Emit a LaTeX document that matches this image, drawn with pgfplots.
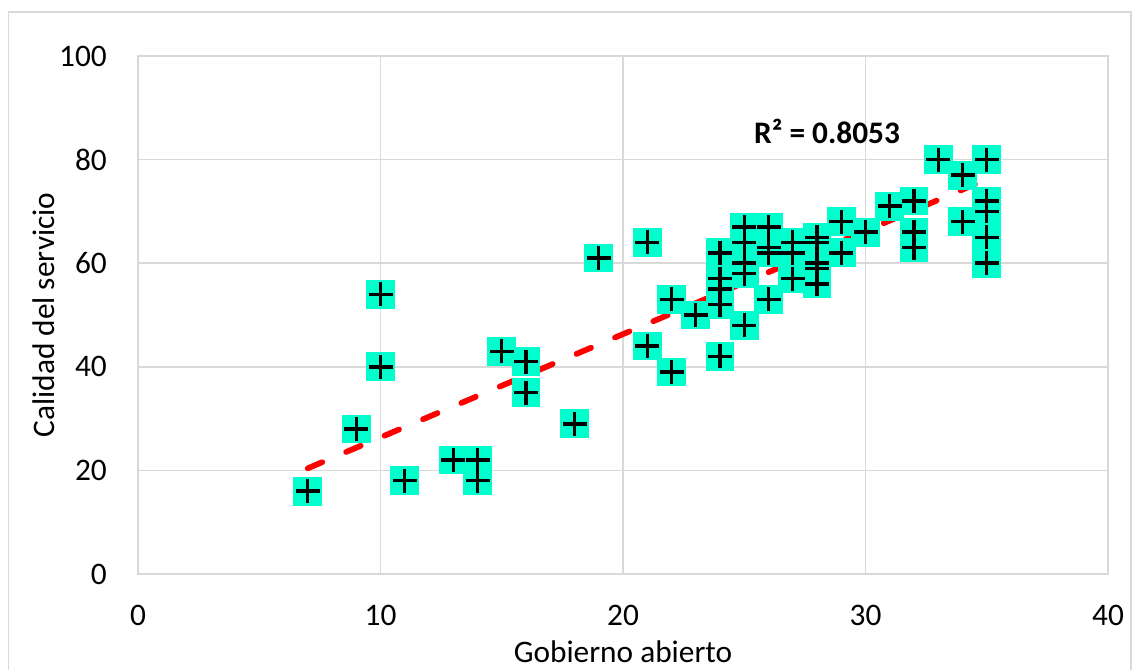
\documentclass[border=0pt]{standalone}
\usepackage{pgfplots}
\pgfplotsset{compat=1.18}
\usepackage{pgfplotstable}
\usepackage{fontspec}
\setmainfont{Carlito}
\definecolor{gridgray}{RGB}{217,217,217}
\definecolor{markcyan}{RGB}{0,255,204}
\pgfplotstableread{
x y
7 16
9 28
10 54
10 40
11 18
13 22
14 22
14 18
15 43
16 41
16 35
18 29
19 61
21 64
21 44
22 53
22 39
23 50
24 62
24 57
24 55
24 52
24 42
25 67
25 64
25 60
25 58
25 48
26 67
26 63
26 62
26 53
27 64
27 62
27 57
28 65
28 64
28 60
28 59
28 56
29 68
29 62
30 66
31 71
32 72
32 66
32 63
33 80
34 77
34 68
35 80
35 72
35 70
35 65
35 60
}\datatable
\begin{document}
\begin{tikzpicture}
\useasboundingbox (0,0) rectangle (849pt,501.75pt);
\draw[gridgray, line width=1.1pt] (6.4pt,-5pt) -- (6.4pt,492.6pt) -- (848.4pt,492.6pt) -- (848.4pt,-5pt);
\begin{axis}[
  at={(103.5pt,71.25pt)}, anchor=south west,
  scale only axis, width=727.5pt, height=388.5pt,
  xmin=0, xmax=40, ymin=0, ymax=100,
  xtick={0,10,...,40}, ytick={0,20,...,100},
  major tick length=0pt,
  grid=major,
  major grid style={gridgray, line width=1.1pt},
  axis line style={gridgray, line width=1.1pt},
  font=\fontsize{23.5}{28}\selectfont,
  /pgf/number format/assume math mode=true,
  xticklabel style={anchor=north, inner sep=0pt, yshift=-23.2pt},
  yticklabel style={anchor=east, inner sep=0pt, xshift=-23.2pt},
  xlabel={Gobierno abierto},
  ylabel={Calidad del servicio},
  xlabel style={at={(axis description cs:0.5,-0.1712)}, anchor=base, inner sep=0pt},
  ylabel style={at={(axis description cs:-0.0856,0.5)}, anchor=south, rotate=0, inner sep=0pt},
  clip=false,
]
\addplot[only marks, mark=square*, mark size=10.4pt, mark options={fill=markcyan, draw=markcyan, line width=0.8pt, rounded corners=1.5pt}] table[x=x,y=y] {\datatable};
\addplot[only marks, mark=+, mark size=9pt, mark options={draw=black, line width=2.6pt}] table[x=x,y=y] {\datatable};
\addplot[red, line width=4.3pt, line cap=round, dash pattern=on 11.8pt off 19.5pt] coordinates {(7,20.4) (35,76.2)};
\node[anchor=base west, inner sep=0pt, font=\fontsize{23.5}{28}\selectfont\bfseries] at (axis cs:25.4,83.2) {R² = 0.8053};
\end{axis}
\end{tikzpicture}
\end{document}
